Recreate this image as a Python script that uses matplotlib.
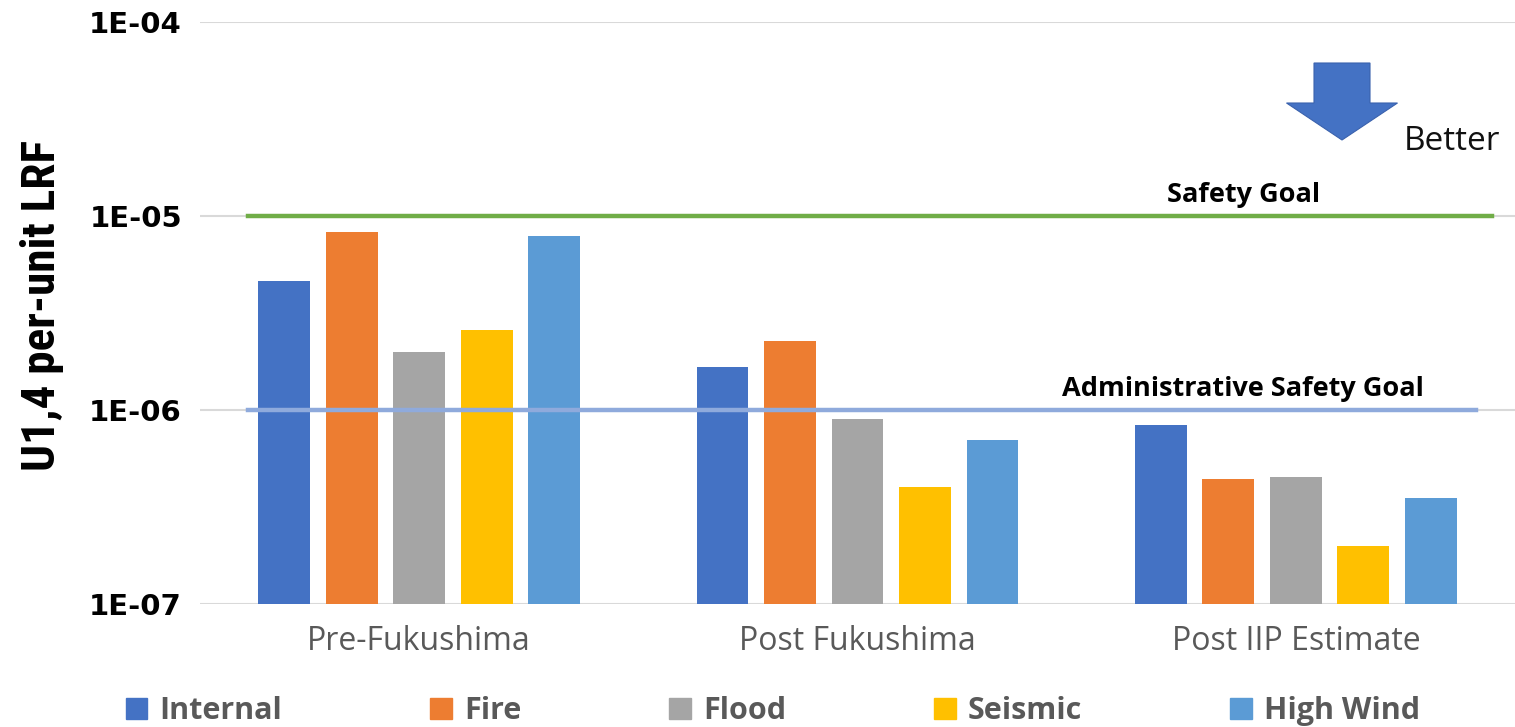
import matplotlib
matplotlib.use("Agg")
import matplotlib.pyplot as plt
from matplotlib.patches import FancyArrow, Patch
import numpy as np

# data
phases = ["Pre-Fukushima", "Post Fukushima", "Post IIP Estimate"]
hazards = ["Internal", "Fire", "Flood", "Seismic", "High Wind"]
internal = [4.6e-6, 1.67e-6, 8.4e-7]
fire = [8.3e-6, 2.28e-6, 4.4e-7]
flood = [1.98e-6, 9.0e-7, 4.5e-7]
seismic = [2.57e-6, 4.0e-7, 2.0e-7]
high_wind = [7.9e-6, 7.0e-7, 3.5e-7]
safety_goal = 1e-5
admin_goal = 1e-6

series = [internal, fire, flood, seismic, high_wind]
colors = ["#4472C4", "#ED7D31", "#A5A5A5", "#FFC000", "#5B9BD5"]

fig = plt.figure(figsize=(15.15, 7.27), dpi=100)
ax = fig.add_axes([0.132, 0.1692, 0.868, 0.8005])

x = np.arange(len(phases))
width = 0.118
pitch = 0.154
for i, (vals, col) in enumerate(zip(series, colors)):
    ax.bar(x + (i - 2) * pitch, vals, width, color=col, label=hazards[i], zorder=3)

ax.set_yscale("log")
ax.set_ylim(1e-7, 1e-4)
ax.set_xlim(-0.5, 2.5)
ax.set_yticks([1e-7, 1e-6, 1e-5, 1e-4])
ax.set_yticklabels(["1E-07", "1E-06", "1E-05", "1E-04"])
ax.minorticks_off()
ax.yaxis.grid(True, color="#D9D9D9", lw=1.5, zorder=0)
for s in ax.spines.values():
    s.set_visible(False)
ax.tick_params(axis="both", length=0)
ax.tick_params(axis="y", pad=13)
ax.tick_params(axis="x", pad=15)
for lab in ax.get_yticklabels():
    lab.set_fontfamily("DejaVu Sans")
    lab.set_fontweight("bold")
    lab.set_fontsize(21)
ax.set_xticks(x)
ax.set_xticklabels(phases, fontsize=23, color="#595959", fontfamily="Open Sans")

# goal lines
ax.plot([-0.39, 2.447], [safety_goal, safety_goal], color="#70AD47", lw=3.2, zorder=4)
ax.plot([-0.39, 2.412], [admin_goal, admin_goal], color="#8FAADC", lw=3.2, zorder=4)
ax.text(1.88, safety_goal * 1.1, "Safety Goal", ha="center", va="bottom",
        fontsize=19.5, fontweight="bold", fontfamily="Open Sans", zorder=5)
ax.text(1.88, admin_goal * 1.1, "Administrative Safety Goal", ha="center", va="bottom",
        fontsize=19.5, fontweight="bold", fontfamily="Open Sans", zorder=5)

# "better" arrow
arrow = FancyArrow(1342 / 1515, 1 - 63 / 727, 0, -(140 - 63) / 727,
                   width=56 / 1515, head_width=111 / 1515, head_length=37 / 727,
                   length_includes_head=True, transform=fig.transFigure,
                   color="#4472C4", ec="#3A62AD", lw=0.8)
fig.patches.append(arrow)
fig.text(1452 / 1515, 1 - 141 / 727, "Better", ha="center", va="center",
         fontsize=24, fontfamily="Open Sans", color="#111111")

fig.text(42 / 1515, 1 - 305 / 727, "U1,4 per-unit LRF", rotation=90,
         ha="center", va="center", fontsize=34, fontweight="bold",
         fontfamily=["Roboto Condensed", "Liberation Sans"])

handles = [Patch(color=c) for c in colors]
leg = fig.legend(handles, hazards, loc="center", bbox_to_anchor=(773 / 1515, 1 - 711 / 727),
                 ncol=5, frameon=False, handlelength=0.7, handleheight=0.7,
                 handletextpad=0.4, columnspacing=4.85,
                 prop={"family": "Open Sans", "weight": "bold", "size": 22})
for t in leg.get_texts():
    t.set_color("#595959")

fig.savefig("out.png", dpi=100)
